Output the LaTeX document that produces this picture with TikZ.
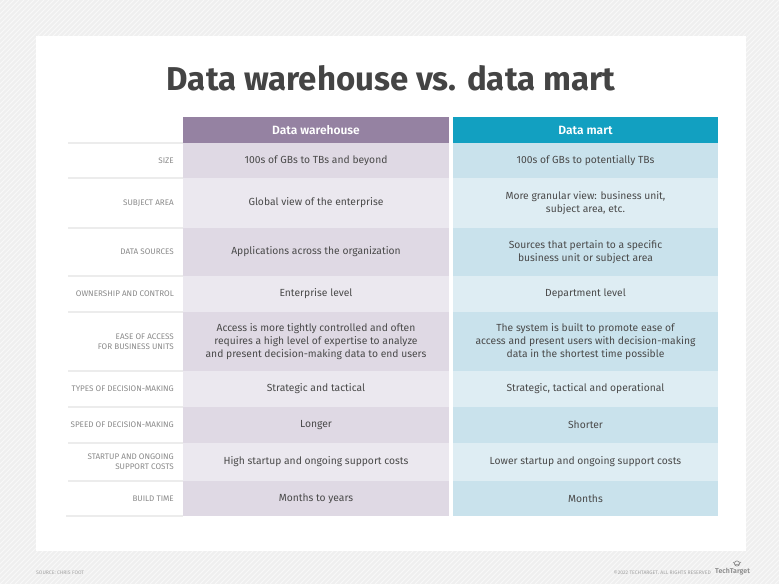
\documentclass[tikz,border=0pt]{standalone}
\usepackage{fontspec}
\setmainfont{Fira Sans}
\newfontfamily\titlefont{Fira Sans Bold}
\newfontfamily\headfont{Fira Sans SemiBold}
\definecolor{bggrey}{HTML}{EFEFEF}
\definecolor{hatch}{HTML}{F8F8F8}
\definecolor{titlegrey}{HTML}{444444}
\definecolor{textgrey}{HTML}{4A4A4A}
\definecolor{labgrey}{HTML}{8A8A8A}
\definecolor{sepgrey}{HTML}{ECECEC}
\definecolor{purplehead}{HTML}{9582A2}
\definecolor{bluehead}{HTML}{12A0C1}
\definecolor{purpledark}{HTML}{DFD9E4}
\definecolor{purplelight}{HTML}{EBE8EF}
\definecolor{bluedark}{HTML}{C9E2EC}
\definecolor{bluelight}{HTML}{DEEDF3}
\begin{document}
\begin{tikzpicture}[x=1pt,y=-1pt,
  cell/.style={font=\fontsize{10.3}{13.3}\selectfont, text=textgrey, align=center, inner sep=0pt},
  lab/.style={font=\fontsize{8.1}{10}\selectfont, text=labgrey, align=right, anchor=east, inner sep=0pt},
  headtxt/.style={font=\headfont\fontsize{12}{14}\selectfont, text=white, inner sep=0pt},
  foot/.style={font=\fontsize{5.1}{6}\selectfont, text=labgrey!80, inner sep=0pt}]
\useasboundingbox (0,0) rectangle (779,584);
% background with hatching
\fill[bggrey] (0,0) rectangle (779,584);
\begin{scope}
\clip (0,0) rectangle (779,584);
\foreach \k in {-600,-595,...,780} \draw[hatch, line width=0.9] (\k,584) -- ++(584,-584);
\end{scope}
% white panel
\fill[white] (36,36) rectangle (746,551);
% title
\node[font=\titlefont\fontsize{33}{36}\selectfont, text=titlegrey, inner sep=0pt] (title) at (391,78) {Data warehouse vs. data mart};
% headers
\fill[purplehead] (183,117) rectangle (449,143);
\fill[bluehead] (453,117) rectangle (718,143);
\node[headtxt] (hw) at (316,130.5) {Data warehouse};
\node[headtxt] (hm) at (585.5,130.5) {Data mart};
% rows
\foreach \t/\b/\pc/\bc/\lb/\wh/\dm [count=\i] in {
 143/178/purpledark/bluedark/{SIZE}/{100s of GBs to TBs and beyond}/{100s of GBs to potentially TBs},
 178/228/purplelight/bluelight/{SUBJECT AREA}/{Global view of the enterprise}/{More granular view: business unit,\\subject area, etc.},
 228/276/purpledark/bluedark/{DATA SOURCES}/{Applications across the organization}/{Sources that pertain to a specific\\business unit or subject area},
 276/312/purplelight/bluelight/{OWNERSHIP AND CONTROL}/{Enterprise level}/{Department level},
 312/371/purpledark/bluedark/{EASE OF ACCESS\\FOR BUSINESS UNITS}/{Access is more tightly controlled and often\\requires a high level of expertise to analyze\\and present decision-making data to end users}/{The system is built to promote ease of\\access and present users with decision-making\\data in the shortest time possible},
 371/407/purplelight/bluelight/{TYPES OF DECISION-MAKING}/{Strategic and tactical}/{Strategic, tactical and operational},
 407/443/purpledark/bluedark/{SPEED OF DECISION-MAKING}/{Longer}/{Shorter},
 443/481/purplelight/bluelight/{STARTUP AND ONGOING\\SUPPORT COSTS}/{High startup and ongoing support costs}/{Lower startup and ongoing support costs},
 481/516/purpledark/bluedark/{BUILD TIME}/{Months to years}/{Months}}
{
  \fill[\pc] (183,\t) rectangle (449,\b);
  \fill[\bc] (453,\t) rectangle (718,\b);
  \draw[sepgrey, line width=1.5] (68,\t) -- (183,\t);
  \node[lab] (l\i) at (174,{(\t+\b)/2}) {\lb};
  \node[cell] (w\i) at (316,{(\t+\b)/2}) {\wh};
  \node[cell] (m\i) at (585.5,{(\t+\b)/2}) {\dm};
}
\draw[sepgrey, line width=1.5] (66,516) -- (183,516);
% footer
\node[foot, anchor=west] (src) at (36,573) {SOURCE: CHRIS FOOT};
\node[foot, anchor=east] (copy) at (711,572.5) {\textcopyright 2022 TECHTARGET. ALL RIGHTS RESERVED};
\node[font=\headfont\fontsize{7}{8}\selectfont, text=labgrey, inner sep=0pt, anchor=west] (logo) at (715,571.5) {TechTarget};
\draw[labgrey, line width=0.7] (737,563.5) circle (2.6);
\draw[labgrey, line width=0.5] (733,562) arc (160:20:4.3);
\end{tikzpicture}
\end{document}
